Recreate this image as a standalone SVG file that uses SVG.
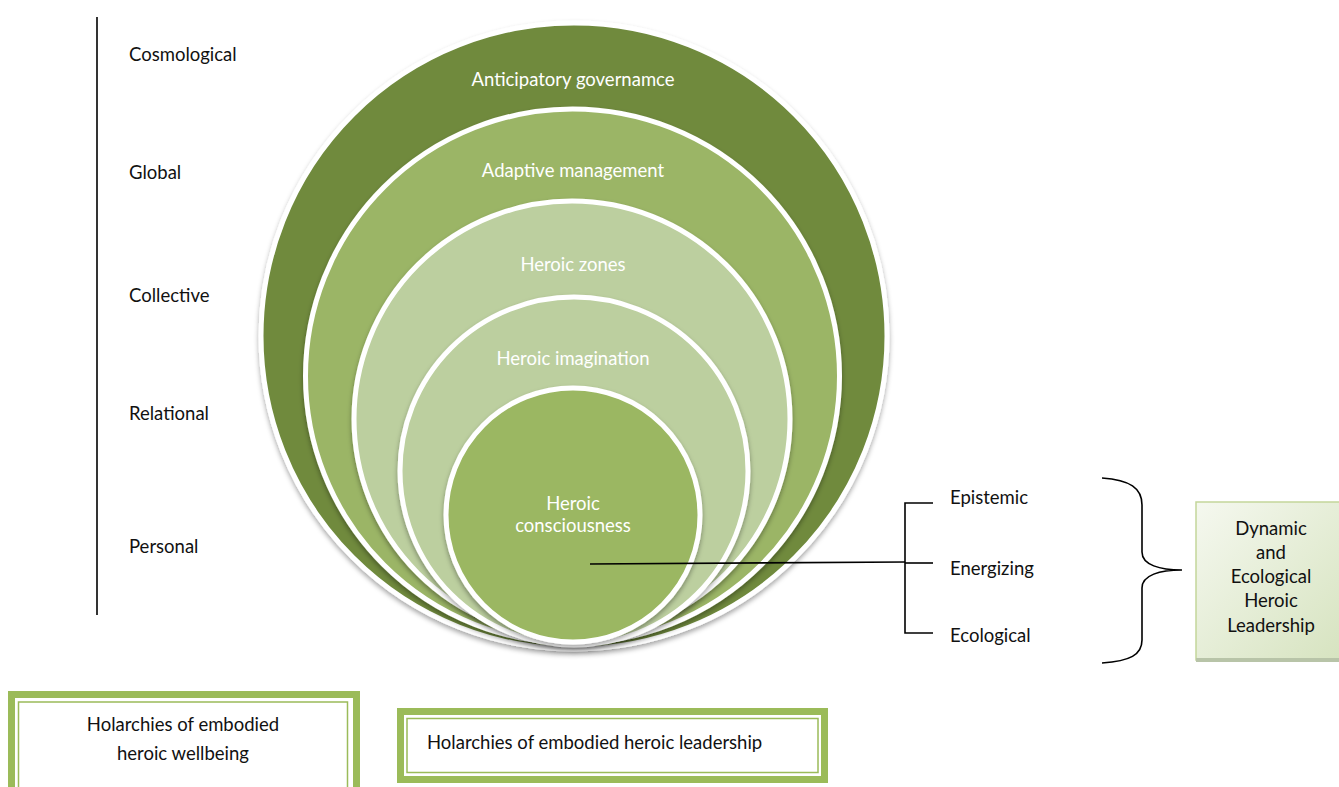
<svg xmlns="http://www.w3.org/2000/svg" width="1339" height="787" viewBox="0 0 1339 787">
  <style>
    .lbl { font-family: Lato, "Open Sans", sans-serif; font-size: 18.5px; fill: #111; }
    .ring-txt { font-family: Lato, "Open Sans", sans-serif; font-size: 18.5px; fill: #ffffff; text-anchor: middle; }
    .ring { stroke: #ffffff; stroke-width: 5; filter: url(#shadow); }
    .ln { stroke: #000; stroke-width: 1.6; fill: none; }
    .frame-outer { fill: none; stroke: #9bbb59; stroke-width: 7; }
    .frame-inner { fill: #ffffff; stroke: #9bbb59; stroke-width: 1.5; }
  </style>
  <defs>
    <filter id="shadow" x="-10%" y="-10%" width="120%" height="125%">
      <feDropShadow dx="0" dy="3" stdDeviation="2.5" flood-color="#000" flood-opacity="0.35"/>
    </filter>
    <linearGradient id="boxFill" x1="0" y1="0" x2="1" y2="1">
      <stop offset="0" stop-color="#f5f8ef"/>
      <stop offset="1" stop-color="#d6e3bf"/>
    </linearGradient>
  </defs>

  <rect width="1339" height="787" fill="#ffffff"/>

  <!-- scale axis -->
  <g id="axis">
    <line x1="97" y1="17" x2="97" y2="615" class="ln"/>
    <text class="lbl" x="129" y="61">Cosmological</text>
    <text class="lbl" x="129" y="179">Global</text>
    <text class="lbl" x="129" y="302">Collective</text>
    <text class="lbl" x="129" y="420">Relational</text>
    <text class="lbl" x="129" y="553">Personal</text>
  </g>

  <!-- nested rings -->
  <g id="ring-governance">
    <circle class="ring" cx="574" cy="336" r="313" fill="#6f8a3e"/>
    <text class="ring-txt" x="573" y="86">Anticipatory governamce</text>
  </g>
  <g id="ring-management">
    <circle class="ring" cx="572.5" cy="376" r="267" fill="#9bb566"/>
    <text class="ring-txt" x="573" y="177">Adaptive management</text>
  </g>
  <g id="ring-zones">
    <circle class="ring" cx="572" cy="419" r="218" fill="#bccf9f"/>
    <text class="ring-txt" x="573" y="271">Heroic zones</text>
  </g>
  <g id="ring-imagination">
    <circle class="ring" cx="574" cy="471" r="174" fill="#bccf9f"/>
    <text class="ring-txt" x="573" y="365">Heroic imagination</text>
  </g>
  <g id="ring-consciousness">
    <circle class="ring" cx="573" cy="515" r="127" fill="#9bb762"/>
    <text class="ring-txt" x="573" y="510">Heroic</text>
    <text class="ring-txt" x="573" y="532">consciousness</text>
  </g>

  <!-- connectors -->
  <g id="connectors">
    <line x1="590" y1="564" x2="905" y2="562" class="ln"/>
    <polyline points="933,503 905,503 905,633 933,633" class="ln"/>
    <line x1="905" y1="563" x2="933" y2="563" class="ln"/>
    <path class="ln" d="M1102,478 C1130,480 1142,488 1142,505 L1142,552 C1142,565 1160,570 1182,570 C1160,570 1142,575 1142,588 L1142,640 C1142,655 1130,661 1102,663"/>
  </g>

  <!-- dimension labels -->
  <g id="dimensions">
    <text class="lbl" x="950" y="504">Epistemic</text>
    <text class="lbl" x="950" y="575">Energizing</text>
    <text class="lbl" x="950" y="642">Ecological</text>
  </g>

  <!-- outcome box -->
  <g id="outcome">
    <rect x="1196" y="502" width="150" height="158" fill="url(#boxFill)" stroke="#c3d69b" stroke-width="1.5"/>
    <rect x="1196" y="658" width="150" height="4" fill="#b8c4a8"/>
    <text class="lbl" text-anchor="middle" x="1271" y="535">Dynamic</text>
    <text class="lbl" text-anchor="middle" x="1271" y="559">and</text>
    <text class="lbl" text-anchor="middle" x="1271" y="583">Ecological</text>
    <text class="lbl" text-anchor="middle" x="1271" y="607">Heroic</text>
    <text class="lbl" text-anchor="middle" x="1271" y="632">Leadership</text>
  </g>

  <!-- framed captions -->
  <g id="caption-wellbeing">
    <rect class="frame-outer" x="11.5" y="694.5" width="345" height="100"/>
    <rect class="frame-inner" x="18.5" y="702" width="329" height="100"/>
    <text class="lbl" text-anchor="middle" x="183" y="731">Holarchies of embodied</text>
    <text class="lbl" text-anchor="middle" x="183" y="760">heroic wellbeing</text>
  </g>
  <g id="caption-leadership">
    <rect class="frame-outer" x="400.5" y="711.5" width="424" height="68"/>
    <rect class="frame-inner" x="407" y="718.5" width="411" height="54"/>
    <text class="lbl" x="427" y="749">Holarchies of embodied heroic leadership</text>
  </g>
</svg>
